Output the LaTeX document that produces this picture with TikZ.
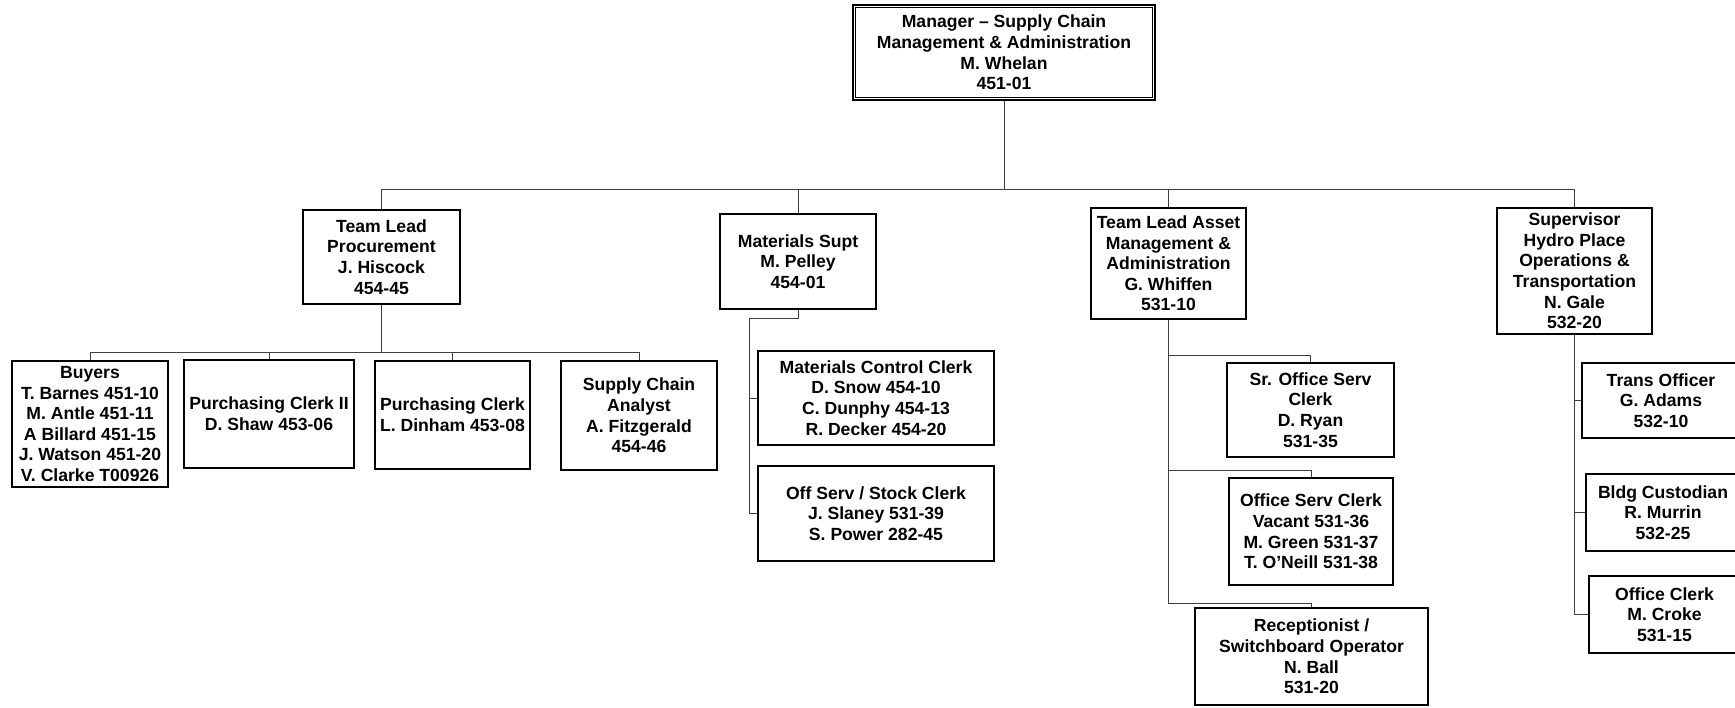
\documentclass[tikz,border=0pt]{standalone}
\usepackage{fontspec}
\setmainfont{Liberation Sans}
\newcommand{\orgbox}[6]{%
  \pgfmathsetmacro\obw{(#4-#2)*0.5}%
  \pgfmathsetmacro\obh{(#5-#3)*0.5}%
  \pgfmathsetmacro\obx{(#2+#4)/2}%
  \pgfmathsetmacro\oby{(#3+#5)/2}%
  \node[orgnode, minimum width=\obw pt, minimum height=\obh pt] (#1) at (\obx,\oby) {#6};%
}
\begin{document}
\begin{tikzpicture}[x=0.5pt,y=-0.5pt,
  orgnode/.style={draw=black, line width=0.75pt, fill=white, inner sep=0pt, align=center,
    font=\bfseries\fontsize{8.8}{10.3}\selectfont, text=black},
  conn/.style={draw=black!75, line width=0.5pt}]
\fill[white] (0,0) rectangle (1735,707);
\useasboundingbox (0,0) rectangle (1735,707);

% top
\orgbox{boss}{853}{5}{1155}{100}{Manager -- Supply Chain\\Management \& Administration\\M. Whelan\\451-01}
\draw[line width=0.6pt] ([shift={(3.5,3.5)}]boss.north west) rectangle ([shift={(-3.5,-3.5)}]boss.south east);

% level 2
\orgbox{tlp}{303}{210}{460}{304}{Team Lead\\Procurement\\J. Hiscock\\454-45}
\orgbox{ms}{720}{214}{876}{309}{Materials Supt\\M. Pelley\\454-01}
\orgbox{tla}{1091}{208}{1246}{319}{Team Lead Asset\\Management \&\\Administration\\G. Whiffen\\531-10}
\orgbox{sup}{1497}{208}{1652}{334}{Supervisor\\Hydro Place\\Operations \&\\Transportation\\N. Gale\\532-20}

% procurement staff
\orgbox{buy}{12}{361}{168}{487}{Buyers\\T. Barnes 451-10\\M. Antle 451-11\\A Billard 451-15\\J. Watson 451-20\\V. Clarke T00926}
\orgbox{pc2}{184}{360}{354}{468}{Purchasing Clerk II\\D. Shaw 453-06}
\orgbox{pc}{375}{361}{530}{469}{Purchasing Clerk\\L. Dinham 453-08}
\orgbox{sca}{561}{361}{717}{470}{Supply Chain\\Analyst\\A. Fitzgerald\\454-46}

% materials staff
\orgbox{mcc}{758}{351}{994}{445}{Materials Control Clerk\\D. Snow 454-10\\C. Dunphy 454-13\\R. Decker 454-20}
\orgbox{oss}{758}{466}{994}{561}{Off Serv / Stock Clerk\\J. Slaney 531-39\\S. Power 282-45}

% asset staff
\orgbox{sro}{1227}{363}{1394}{457}{Sr. Office Serv\\Clerk\\D. Ryan\\531-35}
\orgbox{osc}{1229}{478}{1393}{585}{Office Serv Clerk\\Vacant 531-36\\M. Green 531-37\\T. O'Neill 531-38}
\orgbox{rec}{1195}{608}{1428}{705}{Receptionist /\\Switchboard Operator\\N. Ball\\531-20}

% supervisor staff
\orgbox{tro}{1582}{363}{1740}{438}{Trans Officer\\G. Adams\\532-10}
\orgbox{bcu}{1586}{474}{1740}{551}{Bldg Custodian\\R. Murrin\\532-25}
\orgbox{ocl}{1589}{576}{1740}{653}{Office Clerk\\M. Croke\\531-15}

% bus coordinates
\coordinate (bus) at (0,189);
\coordinate (pbus) at (0,352);
\coordinate (mbus) at (0,318);
\coordinate (mtr) at (749,0);
\coordinate (ab1) at (0,355);
\coordinate (ab2) at (0,470);
\coordinate (ab3) at (0,603);

% connectors
\foreach \c in {tlp,ms,tla,sup}
  \draw[conn] (boss.south) -- (boss.south |- bus) -| (\c.north);
\foreach \c in {buy,pc2,pc,sca}
  \draw[conn] (tlp.south) -- (tlp.south |- pbus) -| (\c.north);
\foreach \c in {mcc,oss}
  \draw[conn] (ms.south) -- (ms.south |- mbus) -| (mtr |- \c.west) -- (\c.west);
\draw[conn] (tla.south) |- (sro.north |- ab1) -- (sro.north);
\draw[conn] (tla.south) |- (osc.north |- ab2) -- (osc.north);
\draw[conn] (tla.south) |- (rec.north |- ab3) -- (rec.north);
\foreach \c in {tro,bcu,ocl}
  \draw[conn] (sup.south) |- (\c.west);
\end{tikzpicture}
\end{document}
